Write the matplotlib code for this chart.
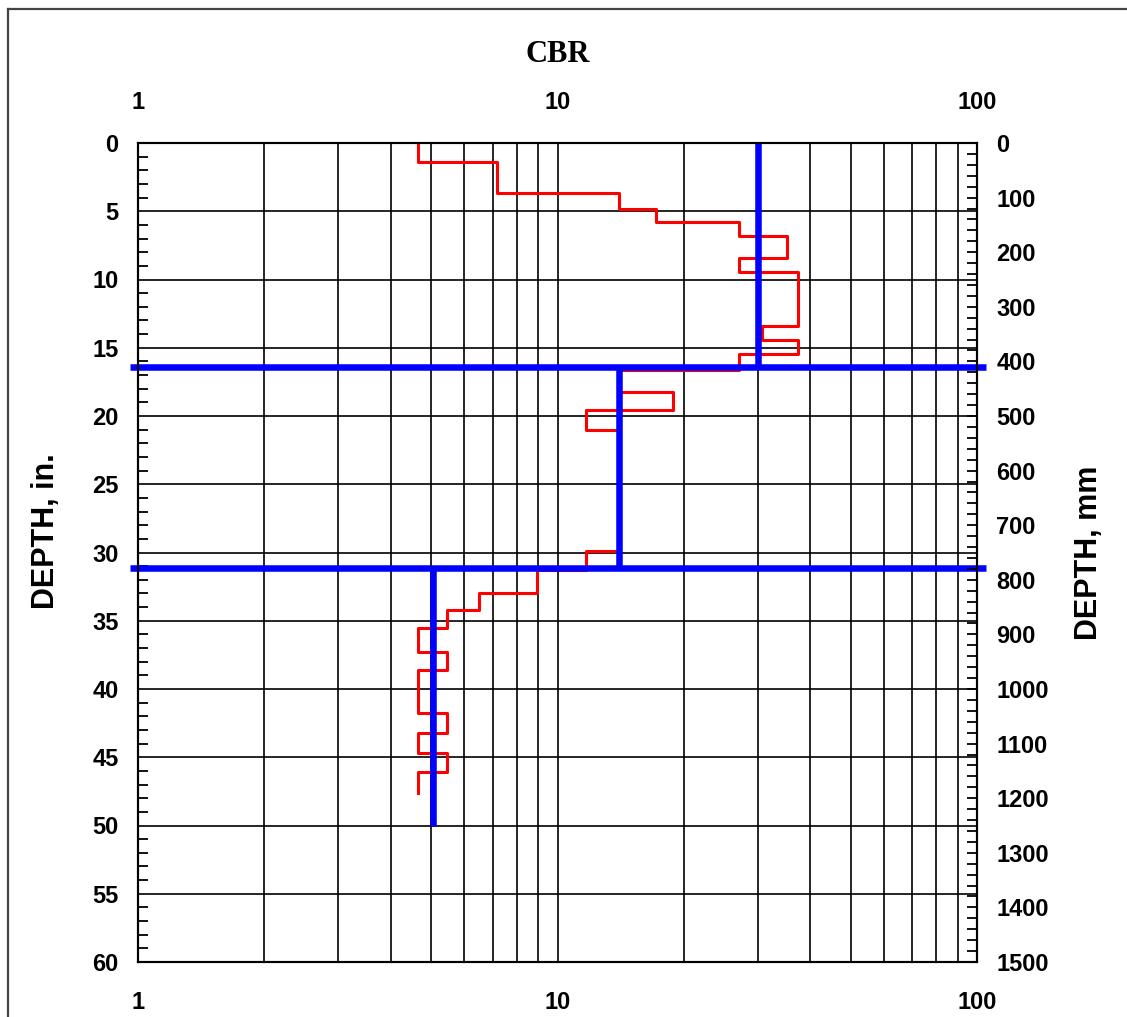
import numpy as np
import matplotlib.pyplot as plt
from matplotlib.lines import Line2D

# red DCP trace: CBR value per layer and layer boundaries (in.)
cbr_steps = [4.66, 7.16, 14.0, 17.2, 27.1, 35.2, 27.1, 37.5, 30.8, 37.5, 27.1,
             14.0, 18.8, 11.7, 14.0, 11.7, 8.95, 6.5, 5.44, 4.66, 5.44, 4.66,
             5.44, 4.66, 5.44, 4.66]
depth_bounds = [0, 1.37, 3.69, 4.86, 5.76, 6.81, 8.40, 9.43, 13.41, 14.43, 15.46,
                16.6, 18.26, 19.56, 21.0, 29.87, 31.28, 32.99, 34.2, 35.55, 37.27,
                38.6, 41.74, 43.2, 44.67, 46.06, 47.64]

# blue design layers
layer_cbr = [30, 14, 5.05]
layer_top = [0, 16.43, 31.16]
layer_bot = [16.43, 31.16, 50]

plt.rcParams['font.family'] = ['Liberation Sans', 'DejaVu Sans']

fig = plt.figure(figsize=(11.27, 10.17), dpi=100)
ax = fig.add_axes([138/1127, 55/1017, 839/1127, 819/1017])

ax.set_xscale('log')
ax.set_xlim(1, 100)
ax.set_ylim(60, 0)

# grid
ax.grid(True, which='both', axis='x', color='black', lw=1.2)
ax.set_yticks(np.arange(0, 61, 5))
ax.grid(True, which='major', axis='y', color='black', lw=1.2)
ax.set_axisbelow(True)

# red step trace
xs = np.repeat(cbr_steps, 2)
ys = np.column_stack([depth_bounds[:-1], depth_bounds[1:]]).ravel()
ax.plot(xs, ys, color='red', lw=2.2, zorder=3)

# blue layers
for c, t, b in zip(layer_cbr, layer_top, layer_bot):
    ax.plot([c, c], [t, b], color='blue', lw=4.7, solid_capstyle='butt', zorder=4)
for d in layer_bot[:2]:
    ax.plot([0.955, 1.05e2], [d, d], color='blue', lw=4.7, solid_capstyle='butt',
            zorder=4, clip_on=False)

# x ticks top and bottom
ax.set_xticks([1, 10, 100])
ax.set_xticklabels(['1', '10', '100'])
ax.tick_params(axis='x', which='both', length=0, labelsize=17, pad=21,
               top=True, labeltop=True)
for lab in ax.get_xticklabels():
    lab.set_fontweight('bold')

# left y ticks
ax.set_yticks(np.arange(0, 61, 1), minor=True)
ax.tick_params(axis='y', which='major', length=0, labelsize=17, pad=14)
ax.tick_params(axis='y', which='minor', direction='in', length=7, width=1.3)
for lab in ax.get_yticklabels():
    lab.set_fontweight('bold')

# right axis in mm
ax2 = ax.twinx()
ax2.set_ylim(1500, 0)
ax2.set_yticks(np.arange(0, 1501, 100))
ax2.set_yticks(np.arange(0, 1501, 20), minor=True)
ax2.tick_params(axis='y', which='major', direction='in', length=7, width=1.3,
                labelsize=17, pad=14)
ax2.tick_params(axis='y', which='minor', direction='in', length=7, width=1.3)
for lab in ax2.get_yticklabels():
    lab.set_fontweight('bold')

for a in (ax, ax2):
    for s in a.spines.values():
        s.set_linewidth(1.5)

fig.text(557.5/1127, 1 - 55/1017, 'CBR', family='Liberation Serif', fontweight='bold',
         fontsize=22, ha='center', va='center')
fig.text(46/1127, 1 - 531/1017, 'DEPTH, in.', fontweight='bold', fontsize=22,
         rotation=90, ha='center', va='center')
fig.text(1089/1127, 1 - 553/1017, 'DEPTH, mm', fontweight='bold', fontsize=22,
         rotation=90, ha='center', va='center')

# outer frame
fig.add_artist(Line2D([8/1127, 8/1127], [0, 1 - 9/1017], color='#444444', lw=1.6,
                      transform=fig.transFigure))
fig.add_artist(Line2D([8/1127, 1], [1 - 9/1017, 1 - 9/1017], color='#444444', lw=1.6,
                      transform=fig.transFigure))

fig.savefig('out.png', dpi=100)
